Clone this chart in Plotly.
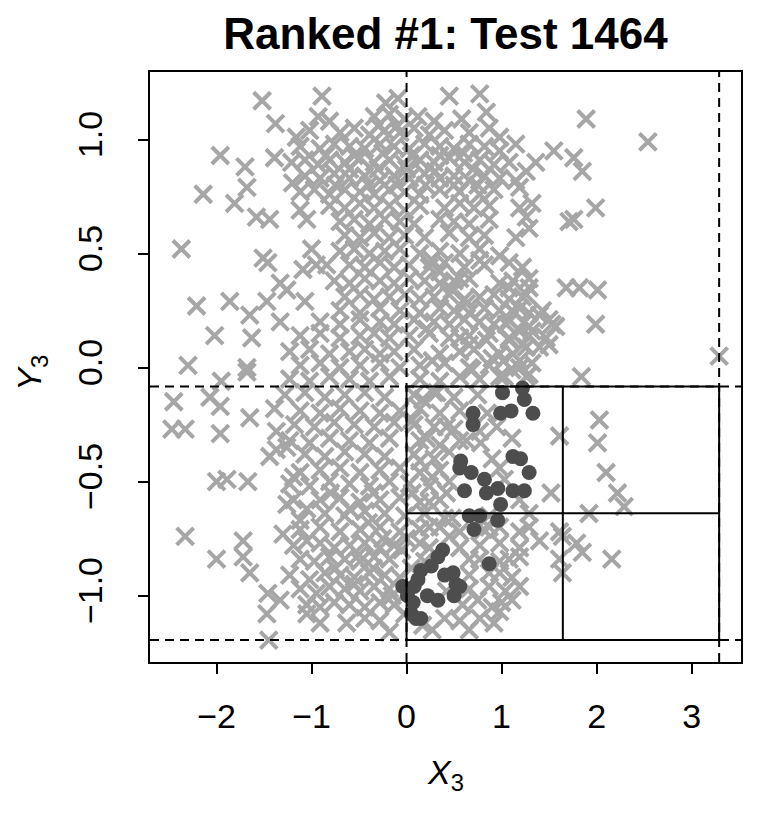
import plotly.graph_objects as go

# ---- data ----
outliers_left = [
    (-1.52, 1.17), (-1.38, 1.07), (-1.96, 0.93), (-1.70, 0.88), (-1.68, 0.79), (-2.14, 0.76),
    (-1.81, 0.72), (-1.39, 0.92), (-1.58, 0.66), (-1.44, 0.65), (-2.37, 0.52), (-1.51, 0.48),
    (-1.46, 0.46), (-1.33, 0.37), (-1.26, 0.34), (-2.21, 0.27), (-1.86, 0.29), (-1.47, 0.29),
    (-1.65, 0.23), (-1.33, 0.20), (-2.02, 0.14), (-1.63, 0.13), (-2.30, 0.01), (-1.68, 0.00),
    (-1.95, -0.06), (-1.68, -0.02), (-2.45, -0.15), (-2.07, -0.13), (-1.96, -0.17), (-1.39, -0.18),
    (-2.47, -0.27), (-2.33, -0.27), (-1.96, -0.29), (-1.65, -0.22), (-1.37, -0.28), (-1.44, -0.39),
    (-1.37, -0.36), (-2.00, -0.50), (-1.89, -0.49), (-1.67, -0.50), (-2.33, -0.74), (-1.30, -0.73),
    (-1.72, -0.76), (-2.00, -0.84), (-1.72, -0.83), (-1.65, -0.90), (-1.46, -0.99), (-1.33, -1.02),
    (-1.47, -1.08), (-1.45, -1.195),
]

outliers_right = [
    (1.55, 0.95), (1.76, 0.92), (1.85, 0.86), (1.89, 1.09), (2.54, 0.99), (1.99, 0.70),
    (1.76, 0.65), (1.71, 0.64), (1.68, 0.35), (1.82, 0.35), (2.01, 0.34), (1.99, 0.19),
    (1.57, 0.18), (1.84, -0.04), (3.29, 0.05), (2.03, -0.23), (2.01, -0.33), (1.61, -0.30),
    (2.10, -0.46), (2.22, -0.55), (1.52, -0.55), (2.29, -0.61), (1.92, -0.64), (1.64, -0.74),
    (1.79, -0.77), (1.85, -0.81), (2.16, -0.84), (1.64, -0.90), (1.61, -0.72), (1.61, -0.84),
]

top_cluster = [
    (-0.89, 1.19), (-0.22, 1.16), (-0.09, 1.18), (0.45, 1.19), (0.77, 1.20), (0.84, 1.12),
    (-0.93, 1.10), (-0.81, 1.08), (-0.34, 1.10), (-0.18, 1.11), (-0.02, 1.09), (0.12, 1.10),
    (0.29, 1.08), (0.58, 1.09),
    (-1.16, 1.01), (-1.02, 1.04), (-0.70, 1.03), (-0.55, 1.05), (-0.39, 1.02), (-0.23, 1.04),
    (-0.07, 1.03), (0.08, 1.05), (0.24, 1.02), (0.40, 1.04), (0.66, 1.03), (0.87, 1.05), (0.98, 1.01),
    (-1.12, 0.97), (-0.91, 0.96), (-0.76, 0.98), (-0.60, 0.97), (-0.44, 0.96), (-0.28, 0.98),
    (-0.13, 0.97), (0.03, 0.96), (0.19, 0.98), (0.35, 0.97), (0.50, 0.96), (0.66, 0.98),
    (0.82, 0.97), (0.98, 0.95), (1.15, 0.98),
    (-1.21, 0.90), (-1.07, 0.91), (-0.93, 0.89), (-0.81, 0.91), (-0.65, 0.90), (-0.49, 0.92),
    (-0.34, 0.90), (-0.18, 0.91), (-0.02, 0.89), (0.14, 0.91), (0.29, 0.90), (0.45, 0.92),
    (0.61, 0.90), (0.77, 0.91), (0.92, 0.89), (1.08, 0.90), (1.36, 0.90), (1.26, 0.86),
    (-1.20, 0.81), (-1.07, 0.84), (-0.91, 0.83), (-0.76, 0.85), (-0.60, 0.83), (-0.44, 0.84),
    (-0.28, 0.82), (-0.13, 0.84), (0.03, 0.83), (0.19, 0.85), (0.35, 0.83), (0.50, 0.84),
    (0.66, 0.82), (0.82, 0.84), (0.98, 0.83), (1.15, 0.82),
    (-1.12, 0.77), (-0.97, 0.78), (-0.81, 0.76), (-0.65, 0.78), (-0.49, 0.77), (-0.34, 0.76),
    (-0.18, 0.78), (-0.02, 0.77), (0.14, 0.76), (0.35, 0.78), (0.56, 0.77), (0.77, 0.76),
    (0.92, 0.78), (1.19, 0.79),
    (-1.12, 0.69), (-0.81, 0.71), (-0.65, 0.70), (-0.49, 0.72), (-0.34, 0.70), (-0.18, 0.71),
    (-0.02, 0.69), (0.14, 0.71), (0.40, 0.70), (0.56, 0.72), (0.71, 0.70), (0.87, 0.71),
    (1.19, 0.70), (1.32, 0.72),
    (-1.05, 0.65), (-0.70, 0.64), (-0.55, 0.65), (-0.39, 0.63), (-0.23, 0.65), (-0.07, 0.64),
    (0.08, 0.63), (0.35, 0.65), (0.50, 0.64), (0.66, 0.63), (0.87, 0.65), (1.26, 0.66), (1.29, 0.61),
    (-0.65, 0.58), (-0.49, 0.57), (-0.34, 0.59), (-0.18, 0.57), (-0.02, 0.58), (0.19, 0.57),
    (0.45, 0.59), (0.66, 0.57), (0.82, 0.58), (1.15, 0.57),
    (-0.85, 0.93), (-0.55, 0.93), (-0.25, 0.94), (0.05, 0.93), (0.35, 0.93), (0.60, 0.94),
    (-0.75, 0.80), (-0.40, 0.80), (-0.10, 0.80), (0.20, 0.80), (0.50, 0.80), (0.75, 0.80),
    (-0.30, 1.06), (-0.10, 1.06), (-0.60, 0.87), (-0.30, 0.87), (0.00, 0.87), (0.30, 0.86), (0.70, 0.87),
]

mid_band = [
    (-1.00, 0.52), (-0.70, 0.51), (-0.55, 0.52), (-0.39, 0.50), (-0.23, 0.51), (-0.07, 0.52),
    (0.14, 0.50), (0.35, 0.51), (0.56, 0.50), (0.77, 0.52), (0.98, 0.49),
    (-1.09, 0.43), (-0.95, 0.45), (-0.84, 0.45), (-0.60, 0.45), (-0.44, 0.44), (-0.28, 0.46),
    (-0.13, 0.44), (0.03, 0.45), (0.24, 0.44), (0.40, 0.46), (0.61, 0.44), (0.82, 0.45),
    (1.22, 0.44), (1.08, 0.46),
    (-0.76, 0.38), (-0.60, 0.37), (-0.44, 0.39), (-0.28, 0.38), (-0.13, 0.37), (0.03, 0.39),
    (0.19, 0.38), (0.35, 0.37), (0.50, 0.38), (0.66, 0.39), (0.98, 0.37), (1.12, 0.38), (1.29, 0.39),
    (-1.07, 0.29), (-0.65, 0.31), (-0.49, 0.32), (-0.34, 0.30), (-0.18, 0.31), (-0.02, 0.32),
    (0.14, 0.30), (0.29, 0.31), (0.45, 0.32), (0.61, 0.30), (0.77, 0.31), (0.92, 0.32),
    (1.08, 0.30), (1.26, 0.32),
    (-0.70, 0.25), (-0.49, 0.24), (-0.28, 0.26), (-0.07, 0.25), (0.14, 0.24), (0.35, 0.26),
    (0.50, 0.25), (0.66, 0.24), (0.82, 0.26), (0.98, 0.25), (1.13, 0.24), (1.19, 0.26), (1.40, 0.23),
    (-0.91, 0.20), (-0.70, 0.19), (-0.49, 0.21), (-0.28, 0.20), (-0.13, 0.19), (0.08, 0.21),
    (0.29, 0.20), (0.45, 0.19), (0.61, 0.21), (0.77, 0.20), (0.92, 0.19), (1.08, 0.21),
    (1.24, 0.20), (1.50, 0.21),
    (-1.12, 0.14), (-0.91, 0.15), (-0.70, 0.13), (-0.49, 0.14), (-0.34, 0.15), (-0.18, 0.13),
    (0.03, 0.14), (0.24, 0.15), (0.45, 0.13), (0.66, 0.14), (0.87, 0.15), (1.08, 0.13),
    (1.29, 0.14), (1.29, 0.18),
    (-1.23, 0.07), (-1.02, 0.08), (-0.81, 0.06), (-0.60, 0.07), (-0.44, 0.08), (-0.28, 0.06),
    (-0.13, 0.07), (0.08, 0.08), (0.35, 0.06), (0.56, 0.07), (0.71, 0.08), (0.98, 0.06),
    (1.12, 0.06), (1.22, 0.10), (1.40, 0.09), (1.50, 0.10),
    (-1.12, 0.01), (-0.91, 0.02), (-0.70, 0.00), (-0.49, 0.01), (-0.28, 0.02), (-0.07, 0.00),
    (0.14, 0.01), (0.40, 0.02), (0.66, 0.00), (0.87, 0.01), (1.02, 0.03), (1.19, 0.00), (1.29, -0.03),
    (1.29, 0.35), (1.08, 0.35), (1.22, 0.31), (1.11, 0.25), (1.29, 0.24), (1.43, 0.25),
    (1.53, 0.19), (1.05, 0.19), (1.19, 0.16), (1.32, 0.16), (1.47, 0.13), (1.08, 0.12),
    (1.26, 0.09), (1.19, 0.03), (1.32, 0.02), (1.11, -0.01), (1.26, -0.04), (0.98, -0.04),
    (0.27, 0.47), (0.35, 0.42), (0.56, 0.39), (0.77, 0.47), (0.48, 0.34), (0.63, 0.28),
    (0.21, 0.17), (0.56, 0.13), (0.66, 0.10), (0.84, 0.12), (0.27, 0.03), (0.69, -0.01), (0.90, 0.04),
]

low_band = [
    (-1.23, -0.05), (-1.02, -0.06), (-0.81, -0.04), (-0.60, -0.05), (-0.39, -0.06), (-0.18, -0.04),
    (0.14, -0.05), (0.35, -0.06), (0.56, -0.04), (0.77, -0.05), (1.03, -0.04),
    (-1.28, -0.12), (-1.07, -0.11), (-0.86, -0.13), (-0.65, -0.12), (-0.44, -0.11), (-0.23, -0.13),
    (0.08, -0.12), (0.29, -0.11), (0.50, -0.13), (0.75, -0.12),
    (-1.12, -0.19), (-0.91, -0.20), (-0.70, -0.18), (-0.49, -0.19), (-0.28, -0.20), (-0.07, -0.19),
    (0.14, -0.18), (0.35, -0.20), (0.56, -0.19), (0.85, -0.20),
    (-1.18, -0.25), (-0.97, -0.26), (-0.76, -0.24), (-0.55, -0.25), (-0.34, -0.26), (-0.13, -0.24),
    (0.08, -0.25), (0.29, -0.26), (0.50, -0.27), (0.95, -0.26),
    (-1.23, -0.32), (-1.02, -0.33), (-0.81, -0.31), (-0.60, -0.32), (-0.39, -0.33), (-0.18, -0.31),
    (0.14, -0.32), (0.35, -0.34), (0.56, -0.32), (0.78, -0.33), (1.11, -0.31),
    (-1.26, -0.35), (-1.07, -0.38), (-0.86, -0.39), (-0.65, -0.37), (-0.44, -0.38), (-0.23, -0.39),
    (0.08, -0.38), (0.29, -0.40), (0.45, -0.37), (0.90, -0.40),
    (-1.19, -0.48), (-1.12, -0.46), (-0.91, -0.45), (-0.70, -0.44), (-0.49, -0.46), (-0.28, -0.45),
    (-0.07, -0.44), (0.14, -0.46), (0.35, -0.45), (0.98, -0.44),
    (-1.23, -0.51), (-1.02, -0.52), (-0.81, -0.50), (-0.60, -0.51), (-0.39, -0.52), (-0.18, -0.50),
    (0.03, -0.51), (0.24, -0.52), (0.45, -0.50), (1.03, -0.49),
    (-1.26, -0.60), (-1.19, -0.58), (-0.91, -0.58), (-0.70, -0.57), (-0.49, -0.59), (-0.28, -0.58),
    (-0.07, -0.57), (0.14, -0.59), (0.35, -0.58), (1.19, -0.58),
    (-1.12, -0.67), (-1.05, -0.62), (-0.86, -0.64), (-0.65, -0.65), (-0.44, -0.63), (-0.23, -0.64),
    (-0.02, -0.65), (0.19, -0.64), (0.40, -0.66), (0.87, -0.65), (1.29, -0.64),
    (-1.12, -0.71), (-0.91, -0.70), (-0.70, -0.72), (-0.49, -0.71), (-0.28, -0.70), (-0.07, -0.72),
    (0.14, -0.71), (0.35, -0.70), (0.56, -0.72), (0.81, -0.71), (0.98, -0.70), (1.19, -0.72), (1.29, -0.70),
    (-1.19, -0.78), (-1.05, -0.76), (-0.91, -0.77), (-0.76, -0.79), (-0.60, -0.78), (-0.44, -0.77),
    (-0.28, -0.79), (-0.13, -0.78), (0.14, -0.77), (0.56, -0.79), (0.77, -0.78), (0.98, -0.77), (1.19, -0.79),
    (-1.12, -0.84), (-0.97, -0.85), (-0.81, -0.83), (-0.65, -0.84), (-0.49, -0.85), (-0.34, -0.83),
    (-0.18, -0.84), (0.19, -0.85), (0.66, -0.84), (0.98, -0.85), (1.19, -0.83),
    (-1.23, -0.91), (-1.02, -0.93), (-0.86, -0.90), (-0.70, -0.91), (-0.55, -0.92), (-0.39, -0.90),
    (-0.23, -0.91), (-0.07, -0.92), (0.66, -0.91), (0.87, -0.90), (1.11, -0.92),
    (-1.12, -0.97), (-0.95, -0.99), (-0.81, -0.96), (-0.65, -0.97), (-0.49, -0.98), (-0.34, -0.96),
    (-0.18, -0.97), (0.42, -0.98), (0.66, -0.97), (0.87, -0.96), (1.04, -0.98),
    (-1.05, -1.04), (-0.91, -1.05), (-0.76, -1.03), (-0.60, -1.04), (-0.44, -1.05), (-0.28, -1.03),
    (-0.13, -1.04), (0.59, -1.04), (0.75, -1.02), (0.90, -1.05), (1.00, -1.03),
    (-1.05, -1.08), (-0.91, -1.12), (-0.63, -1.12), (-0.44, -1.10), (-0.28, -1.11), (0.17, -1.13),
    (0.40, -1.10), (0.56, -1.11), (0.77, -1.10), (0.92, -1.12),
    (-0.18, -1.16), (0.27, -1.15), (0.66, -1.15),
    (0.17, -0.14), (0.32, -0.11), (0.06, -0.23), (0.21, -0.31), (0.42, -0.26), (0.63, -0.32),
    (0.77, -0.28), (0.14, -0.41), (0.27, -0.48), (0.42, -0.55), (0.06, -0.55), (0.24, -0.59),
    (0.24, -0.70), (0.48, -0.66), (0.87, -0.70), (1.40, -0.76), (1.08, -0.84), (0.98, -0.90),
    (1.19, -0.96), (1.11, -1.02), (0.98, -1.07), (0.77, -0.84), (0.45, -0.74), (0.24, -0.79),
    (-0.75, -0.88), (-0.55, -0.95), (-0.35, -0.88), (-0.15, -1.00), (-0.50, -0.82), (-0.25, -0.75),
    (-0.05, -0.80), (0.00, -0.75), (0.05, -0.88), (-0.02, -1.08), (-0.40, -0.68), (-0.60, -0.62),
    (-0.80, -0.55), (-0.35, -0.55),
]

# points selected by the rule (dark filled dots)
selected = [
    (1.01, -0.11), (1.22, -0.09), (1.24, -0.14), (0.70, -0.20), (0.70, -0.25), (0.99, -0.20),
    (1.10, -0.19), (1.33, -0.20), (0.57, -0.41), (0.56, -0.44), (0.68, -0.46), (1.12, -0.39),
    (1.20, -0.40), (1.29, -0.46), (0.82, -0.49), (0.61, -0.54), (0.84, -0.55), (0.96, -0.53),
    (1.12, -0.54), (1.24, -0.54), (0.99, -0.60), (0.66, -0.65), (0.77, -0.65), (0.71, -0.71),
    (0.96, -0.67), (0.87, -0.86), (0.38, -0.80), (0.33, -0.83), (0.26, -0.87), (0.15, -0.89),
    (0.40, -0.91), (0.49, -0.90), (0.52, -0.95), (0.56, -0.96), (0.12, -0.93), (0.08, -0.96),
    (-0.04, -0.96), (0.01, -1.00), (0.07, -1.03), (0.22, -1.00), (0.33, -1.02), (0.50, -1.00),
    (0.05, -1.08), (0.10, -1.10), (0.15, -1.10),
]

# box limits / split lines
x_lo, x_hi = 0.0, 3.29
y_lo, y_hi = -1.195, -0.083
x_mid, y_mid = 1.645, -0.639

x_ticks = [-2, -1, 0, 1, 2, 3]
y_ticks = [-1.0, -0.5, 0.0, 0.5, 1.0]

FONT = "Liberation Sans, Arial, Helvetica, sans-serif"

gray_pts = outliers_left + outliers_right + top_cluster + mid_band + low_band

fig = go.Figure()

fig.add_trace(go.Scatter(
    x=[p[0] for p in gray_pts],
    y=[p[1] for p in gray_pts],
    mode="markers",
    marker=dict(symbol="x-thin-open", size=17, color="#A6A6A6",
                line=dict(width=4, color="#A6A6A6")),
    showlegend=False,
    hoverinfo="skip",
))

fig.add_trace(go.Scatter(
    x=[p[0] for p in selected],
    y=[p[1] for p in selected],
    mode="markers",
    marker=dict(symbol="circle", size=15, color="#4D4D4D", line=dict(width=0)),
    showlegend=False,
    hoverinfo="skip",
))

# dashed limit lines across the whole panel
dash = dict(color="black", width=2, dash="9px,6px")
for xv in (x_lo, x_hi):
    fig.add_shape(type="line", xref="x", yref="paper", x0=xv, x1=xv, y0=0, y1=1, line=dash)
for yv in (y_hi, y_lo):
    fig.add_shape(type="line", xref="paper", yref="y", x0=0, x1=1, y0=yv, y1=yv, line=dash)

# solid 2x2 grid of boxes
solid = dict(color="black", width=2)
fig.add_shape(type="rect", x0=x_lo, x1=x_hi, y0=y_lo, y1=y_hi, line=solid)
fig.add_shape(type="line", x0=x_mid, x1=x_mid, y0=y_lo, y1=y_hi, line=solid)
fig.add_shape(type="line", x0=x_lo, x1=x_hi, y0=y_mid, y1=y_mid, line=solid)

fig.add_annotation(text="<i>X</i><sub>3</sub>", xref="paper", yref="paper",
                   x=0.5, y=-0.19, xanchor="center", yanchor="middle", showarrow=False,
                   font=dict(size=34, family=FONT, color="black"))
fig.add_annotation(text="<i>Y</i><sub>3</sub>", xref="paper", yref="paper",
                   x=-0.2, y=0.49, xanchor="center", yanchor="middle", textangle=-90,
                   showarrow=False, font=dict(size=34, family=FONT, color="black"))

# page body adds 8px margin, so the figure is 8px smaller than the window
fig.update_layout(
    width=754, height=812,
    margin=dict(l=142, r=21, t=64, b=158),
    paper_bgcolor="white", plot_bgcolor="white",
    font=dict(family=FONT, color="black"),
    title=dict(text="<b>Ranked #1: Test 1464</b>", x=0.5, xref="paper",
               y=0.969, yref="container", yanchor="middle",
               font=dict(size=44, family=FONT, color="black")),
    showlegend=False,
)
fig.update_xaxes(
    range=[-2.70, 3.52], tickvals=x_ticks, ticks="outside", ticklen=10, tickwidth=2,
    tickcolor="black", showline=True, mirror=True, linecolor="black", linewidth=2,
    showgrid=False, zeroline=False, tickfont=dict(size=34, family=FONT), ticklabelstandoff=13,
)
fig.update_yaxes(
    range=[-1.291, 1.296], tickvals=y_ticks, tickformat=".1f", tickangle=-90,
    ticks="outside", ticklen=10, tickwidth=2, tickcolor="black", showline=True, mirror=True,
    linecolor="black", linewidth=2, showgrid=False, zeroline=False,
    tickfont=dict(size=34, family=FONT), ticklabelstandoff=22,
)

fig.write_html("out.html")
